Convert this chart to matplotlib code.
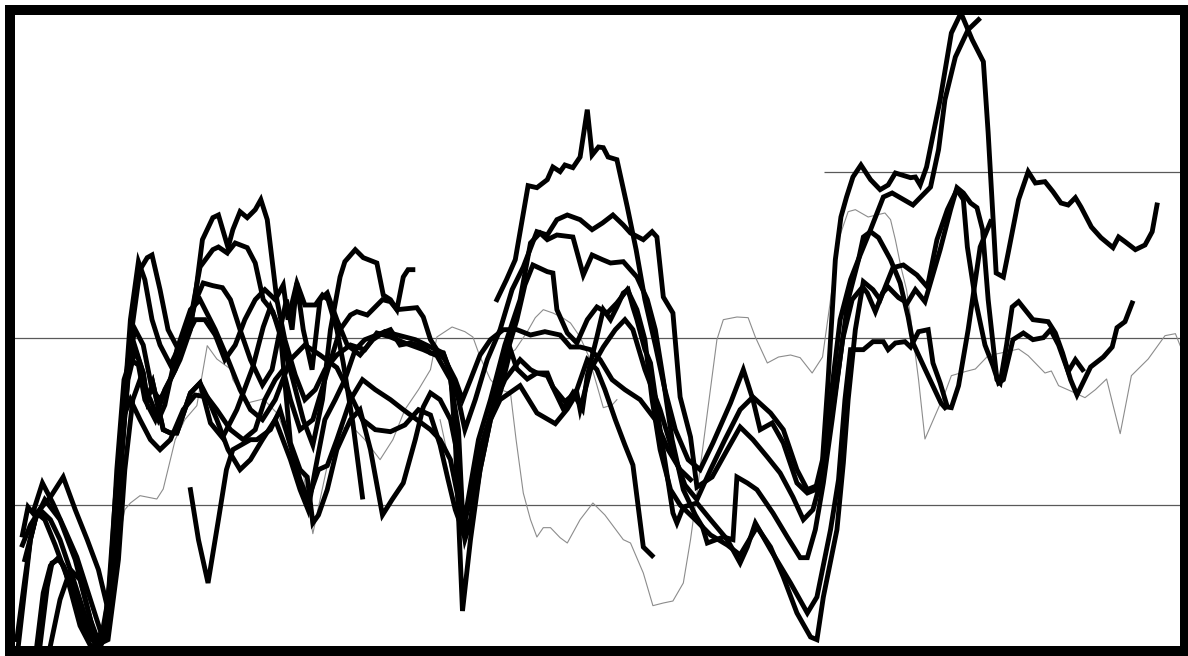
import matplotlib.pyplot as plt

# Twelve tracked series over the sampling window (x in sample units, y in percent).
# Black traces are the main runs, the grey ones are the reference runs.

b1_x = [62.1, 63.3, 64.4, 66.0, 67.1, 68.4, 69.1, 70.0, 70.6, 71.6, 72.5, 73.4, 74.0, 74.8, 75.4, 76.0,
        77.1, 78.4, 79.5, 80.6, 81.9, 83.1, 84.4, 86.0, 87.5, 89.1, 91.3, 92.9, 94.1, 95.0, 96.5, 97.9,
        99.6, 100.9, 101.9, 102.8, 103.5, 104.4, 105.1, 105.8, 106.6, 107.6, 108.8, 110.0, 111.0, 111.9,
        113.8, 114.4, 115.0, 115.8, 117.5, 118.9, 120.1, 121.5, 122.9, 123.5, 124.5, 125.4, 126.0, 127.3,
        128.5, 129.4, 130.6, 131.6, 132.6, 133.5, 134.4, 135.1, 136.4, 137.6, 139.1, 139.8, 140.6, 141.9,
        143.1, 144.0, 144.6]
b1_y = [55.8, 58.8, 61.8, 72.9, 72.6, 73.8, 75.7, 75.0, 76.0, 75.6, 77.2, 84.3, 77.5, 78.7, 78.6, 77.2,
        76.8, 69.7, 63.3, 55.8, 49.0, 42.3, 36.3, 31.8, 30.3, 34.3, 40.3, 45.3, 40.8, 36.3, 37.3, 34.3,
        28.3, 26.8, 27.3, 31.8, 43.8, 61.8, 68.2, 71.2, 74.2, 76.0, 73.8, 72.3, 73.0, 74.8,
        74.1, 74.2, 73.0, 75.7, 85.8, 95.8, 98.8, 94.8, 91.5, 80.8, 59.8, 59.2, 62.8, 70.8,
        75.0, 73.3, 73.5, 72.0, 70.3, 70.0, 71.1, 69.7, 66.7, 65.1, 63.6, 65.2, 64.5, 63.3,
        64.0, 66.0, 70.0]

b2_x = [2.8, 3.5, 4.1, 5.3, 6.6, 8.1, 9.6, 11.3, 12.5, 13.5, 14.4, 15.3, 16.3, 17.3, 18.1, 19.0, 20.0,
        21.3, 22.5, 23.8, 25.0, 26.6, 27.3, 28.4, 29.4, 30.9, 31.9, 32.9, 34.1, 35.4, 36.6, 37.9, 39.1,
        40.3, 41.3, 42.5, 43.1, 44.4, 45.4, 47.1, 47.9, 48.8, 49.6, 50.4, 51.0, 51.6]
b2_y = [20.5, 24.7, 23.8, 28.3, 25.3, 21.3, 17.2, 10.8, 6.3, 7.0, 19.8, 36.3, 52.8, 61.5, 58.8, 52.8, 49.0,
        46.0, 49.0, 52.8, 60.7, 63.3, 63.7, 62.8, 64.3, 63.6, 61.3, 55.8, 54.0, 49.0, 43.8, 37.8, 34.0,
        40.8, 51.3, 59.2, 61.5, 63.3, 62.1, 61.3, 56.5, 55.8, 54.3, 59.2, 60.3, 60.3]

b3_x = [2.3, 3.8, 4.6, 6.3, 7.9, 9.4, 10.9, 12.3, 13.5, 14.4, 15.3, 16.3, 17.5, 18.4, 19.0, 20.0, 21.0,
        22.3, 23.5, 24.5, 25.4, 26.6, 27.8, 28.8, 30.0, 31.3, 32.8, 34.0, 35.0, 35.8, 36.5, 37.1, 37.9,
        39.0, 40.0, 40.9, 42.1, 43.4, 45.0, 46.6, 48.1, 50.0, 51.9, 53.8, 55.4, 56.3, 57.3, 58.1, 59.4,
        60.9, 62.5, 64.0, 65.4, 67.1, 68.4, 69.6, 70.9, 72.5, 74.0, 75.3, 76.6, 77.9, 78.8, 80.4, 81.5,
        82.1, 82.9, 84.1, 85.0, 86.3, 87.1, 89.0, 90.9, 92.5, 94.1, 95.9, 97.5, 99.1, 100.4, 101.6, 102.5,
        103.8, 105.0, 106.3, 107.5, 108.8, 110.4, 111.5, 114.1, 116.3, 117.3, 118.1, 119.4, 121.0, 122.3]
b3_y = [4.0, 19.8, 23.8, 26.2, 29.2, 24.3, 19.8, 15.3, 9.3, 16.8, 33.3, 49.8, 60.3, 62.1, 62.5, 57.3, 51.3,
        48.3, 51.3, 55.8, 58.3, 57.9, 57.6, 55.8, 51.3, 46.8, 43.0, 45.3, 51.3, 55.8, 51.3, 58.3, 51.3,
        45.3, 55.8, 56.8, 52.8, 49.0, 47.5, 49.8, 51.0, 50.4, 49.8, 48.7, 47.8, 44.8, 40.8, 36.3, 40.8,
        46.8, 51.3, 57.3, 60.7, 66.0, 65.5, 67.8, 68.5, 67.8, 66.3, 67.3, 68.5, 67.0, 65.8, 64.8, 66.0,
        65.2, 56.2, 53.8, 41.2, 35.2, 27.7, 29.2, 33.3, 36.7, 34.8, 32.2, 29.8, 26.2, 22.8, 24.3, 28.3,
        40.8, 52.8, 58.8, 62.5, 66.3, 71.2, 71.8, 70.0, 72.7, 78.3, 85.8, 92.2, 96.3, 97.8]

b4_x = [4.6, 5.4, 6.3, 7.3, 8.1, 10.0, 11.3, 12.5, 13.8, 14.8, 15.6, 16.6, 17.9, 18.4, 19.1, 20.4, 21.3,
        22.1, 23.8, 25.0, 25.9, 27.1, 28.5, 30.0, 31.3, 32.8, 34.4, 36.3, 37.5, 38.5, 39.4, 40.6, 41.9,
        43.1, 44.4, 45.6, 47.1, 48.8, 50.0, 51.3, 52.9, 53.8, 55.4, 56.3, 56.9, 57.8, 58.8, 60.0, 61.3,
        62.5, 63.8, 64.6, 65.9, 67.1, 68.4, 69.6, 70.4, 71.6, 72.8, 73.4, 74.6, 75.4, 76.3, 77.1, 77.9,
        78.5, 79.1, 79.6, 80.6, 81.3, 82.5, 84.1, 84.6, 85.4, 87.1, 88.8, 90.9, 92.5, 93.4, 94.4, 96.3,
        98.8, 100.9, 102.1, 103.8, 104.8, 105.6, 106.3, 107.9, 109.1, 110.4, 111.0, 111.9, 113.1, 113.8,
        114.8, 116.0, 116.6, 117.5, 118.4, 118.9, 119.8, 121.0, 122.5, 123.8]
b4_y = [3.9, 11.8, 15.9, 17.1, 15.4, 6.9, 3.9, 4.0, 10.8, 25.8, 40.8, 49.8, 44.8, 40.8, 43.3, 36.3, 35.8,
        35.8, 41.8, 43.3, 41.2, 37.8, 33.3, 30.3, 31.8, 34.8, 37.8, 31.8, 27.3, 24.3, 30.3, 37.8, 40.8,
        43.8, 48.3, 49.8, 50.5, 51.3, 49.0, 49.3, 48.7, 47.8, 47.8, 44.8, 34.8, 9.1, 19.8, 30.3, 37.8,
        41.8, 48.3, 45.4, 43.9, 44.8, 44.4, 41.4, 39.4, 41.8, 39.4, 44.4, 50.2, 54.3, 52.8, 54.7, 56.8,
        57.3, 54.7, 52.8, 48.3, 46.3, 36.3, 23.8, 22.3, 24.7, 25.3, 22.8, 19.8, 16.3, 18.7, 22.3, 18.3,
        13.3, 8.8, 11.2, 21.3, 28.8, 40.8, 48.3, 48.3, 49.5, 49.5, 48.3, 49.3, 49.5, 48.7,
        51.0, 51.3, 46.3, 43.3, 39.7, 39.6, 42.9, 51.3, 63.7, 67.5]

b5_x = [2.1, 3.1, 3.8, 4.6, 5.6, 6.9, 8.5, 10.0, 11.5, 12.5, 13.4, 14.1, 15.0, 16.0, 16.9, 17.9, 19.0,
        20.0, 21.3, 22.5, 23.8, 24.5, 25.3, 26.6, 27.3, 28.5, 29.1, 30.0, 30.9, 31.9, 32.6, 33.4, 34.6,
        35.6, 36.9, 38.1, 39.4, 40.6, 42.1, 43.8, 45.6, 47.1, 48.8, 50.6, 52.9, 54.6, 56.3, 57.3, 57.9,
        58.5, 59.8, 61.3, 63.1, 65.0, 66.3, 67.5, 68.4, 69.6, 71.6, 72.9, 74.0, 75.3, 76.3, 77.9, 79.6,
        80.9, 81.9, 82.9, 84.0, 85.4, 86.9, 87.8, 88.4, 90.4, 91.6, 92.1, 93.4, 94.6, 96.6, 98.4, 100.0,
        100.9, 101.9, 102.9, 104.0, 105.3, 106.5, 107.8, 108.4, 109.4, 110.3, 111.0, 112.3, 113.4, 114.4,
        115.6, 117.5, 118.8, 119.6, 120.4, 121.3, 122.1, 122.8, 123.5, 124.6, 125.0, 125.8, 126.5, 127.3,
        129.1, 131.0, 131.9, 132.8, 133.8, 134.6, 136.3, 137.9, 139.0, 139.6, 140.6, 141.5]
b5_y = [4.8, 13.8, 19.8, 23.8, 22.8, 19.0, 13.8, 9.3, 4.8, 3.6, 6.3, 16.8, 34.8, 46.8, 51.3, 49.0, 42.3,
        40.8, 43.8, 46.8, 51.3, 57.3, 64.8, 68.1, 68.5, 63.6, 66.3, 69.0, 68.1, 69.3, 70.8, 67.8, 55.8,
        49.8, 44.5, 40.8, 42.3, 45.3, 47.5, 49.0, 48.3, 50.8, 50.2, 49.3, 48.3, 47.4, 43.8, 36.3, 21.3,
        25.8, 34.8, 40.8, 49.0, 55.8, 64.3, 65.8, 64.8, 65.5, 65.2, 59.5, 62.5, 61.8, 61.3, 61.5, 59.2,
        55.8, 51.3, 43.8, 34.8, 27.3, 23.5, 21.7, 19.3, 20.2, 19.8, 29.2, 28.3, 27.3, 23.8, 20.2, 17.1,
        17.1, 21.3, 28.3, 37.8, 49.8, 55.8, 57.7, 56.8, 54.0, 56.8, 57.7, 56.1, 55.3, 57.3,
        55.5, 63.3, 69.3, 72.6, 71.8, 70.3, 69.6, 66.3, 55.8, 43.8, 43.3, 49.0, 54.7, 55.5,
        52.8, 52.5, 50.8, 47.8, 43.8, 41.5, 45.7, 47.2, 48.7, 51.6, 52.5, 55.3]

b6_x = [5.0, 5.9, 6.5, 7.3, 7.9, 9.4, 10.3, 11.3, 12.3, 13.1, 14.0, 15.0, 16.0, 16.9, 17.9, 18.4, 19.1,
        20.4, 21.3, 22.1, 23.8, 25.0, 26.3, 27.8, 29.6, 31.6, 32.9, 33.8, 35.0, 36.3, 37.5, 38.4, 39.1,
        39.8, 40.9, 42.1, 43.8, 45.0, 46.3, 47.8, 49.0, 50.4, 51.9, 52.9, 53.8, 55.0, 56.3, 57.3, 57.9,
        58.8, 60.0, 61.5, 63.1, 64.6, 65.6, 66.6, 68.4, 69.1, 69.6, 70.9, 72.1, 73.4, 74.6, 75.9, 77.1,
        78.4, 79.6, 80.6, 81.5, 82.5, 83.8, 85.0, 86.9, 88.8, 90.9, 92.5, 94.6, 96.3, 97.9, 99.6, 101.3,
        102.1, 102.9, 104.6, 105.4, 106.0, 106.9, 107.9, 109.1, 110.0, 111.6, 112.9, 114.6, 115.9, 117.1,
        118.4, 119.6, 120.4, 120.9, 121.9, 123.1, 124.1, 124.8, 125.4, 126.6, 127.9, 129.1, 130.4, 131.3,
        132.3, 133.5, 134.4, 135.3]
b6_y = [3.9, 12.7, 16.3, 16.8, 16.0, 11.8, 7.3, 5.2, 4.0, 6.3, 16.8, 30.3, 43.8, 48.3, 44.8, 40.8, 43.3,
        36.3, 35.8, 35.8, 41.8, 43.3, 37.3, 35.1, 39.3, 45.7, 51.7, 54.7, 51.3, 34.3, 30.3, 29.2, 22.3,
        23.5, 27.3, 33.3, 37.8, 39.3, 33.3, 23.5, 25.8, 28.3, 34.8, 39.7, 41.8, 40.8, 37.8, 31.8, 21.3,
        22.8, 31.8, 39.3, 46.8, 52.8, 58.0, 61.0, 60.0, 59.8, 54.3, 50.8, 49.3, 52.8, 54.7, 53.8, 55.3,
        57.3, 54.3, 49.8, 40.8, 33.3, 27.3, 25.0, 22.8, 20.5, 19.0, 17.5, 21.7, 18.7, 14.2, 8.8, 5.2,
        4.8, 11.2, 21.3, 31.3, 40.8, 51.3, 58.5, 57.3, 55.8, 60.6, 61.0, 59.5, 57.7, 64.8,
        69.3, 72.3, 70.8, 63.7, 55.8, 49.0, 45.9, 43.3, 43.8, 49.8, 50.8, 49.8, 50.1, 51.3,
        49.0, 45.0, 46.8, 45.3]

b7_x = [23.8, 24.8, 26.0, 27.3, 28.3, 29.1, 31.3, 32.1, 33.8, 35.0, 36.3, 37.5, 38.5, 39.8, 40.9, 42.1,
        43.8, 45.3, 46.9, 48.8, 50.4, 52.1, 53.8, 55.0, 56.3, 57.3, 58.1, 59.0, 60.0, 61.3, 62.5, 65.0,
        67.1, 69.4, 70.9, 72.1, 72.5, 73.8, 75.4, 76.9, 78.1, 79.1, 80.6, 82.5, 84.0, 85.6, 87.1, 88.8,
        90.6, 92.5, 94.1, 96.3, 97.9, 99.6, 100.9, 102.3, 103.5, 104.8, 106.0, 107.3, 107.9, 108.8, 109.8,
        111.3, 112.5, 113.5, 114.1, 115.6, 117.6, 118.1]
b7_y = [27.3, 19.8, 13.3, 22.8, 30.3, 33.3, 34.8, 34.8, 36.3, 39.3, 33.9, 28.8, 25.8, 30.3, 30.9, 34.8,
        40.8, 43.8, 42.3, 40.8, 39.3, 37.8, 36.3, 34.8, 31.8, 25.8, 19.8, 23.2, 30.3, 37.8, 40.8, 42.9,
        38.8, 37.2, 39.4, 41.8, 39.3, 45.3, 48.7, 51.3, 52.8, 51.3, 45.3, 39.3, 33.3, 28.0, 25.8, 30.3,
        34.8, 39.3, 41.2, 38.8, 36.3, 30.3, 27.3, 28.0, 34.8, 45.3, 55.8, 61.8, 65.2, 66.0, 65.1,
        61.8, 58.3, 53.2, 49.3, 45.4, 40.3, 39.6]

b8_x = [3.1, 4.4, 5.6, 7.5, 9.4, 11.0, 12.1, 13.5, 14.8, 15.6, 16.6, 17.5, 18.8, 19.8, 20.6, 22.1, 23.8,
        25.0, 26.9, 28.5, 30.0, 31.3, 32.8, 34.4, 36.3, 38.1, 40.0, 42.1, 43.8, 45.3, 46.9, 48.8, 50.6,
        52.3, 53.8, 55.0, 56.0, 56.9, 57.8, 58.8, 60.0, 61.5, 63.1, 65.0, 66.3, 67.1, 68.4, 69.1, 70.6,
        71.3, 72.1, 73.4, 74.6, 75.6, 76.9, 78.1, 79.1, 80.4, 81.5]
b8_y = [16.8, 22.8, 25.8, 22.8, 16.8, 9.3, 4.0, 4.8, 16.8, 30.3, 40.8, 43.8, 40.8, 37.8, 40.0, 48.3, 54.3,
        55.8, 51.3, 46.8, 42.3, 39.3, 37.8, 40.8, 46.8, 49.0, 47.5, 45.6, 41.5, 37.8, 36.3, 36.0, 37.0,
        39.3, 38.5, 34.0, 28.8, 24.3, 21.3, 25.8, 33.3, 39.3, 43.8, 46.8, 45.3, 44.8, 44.8, 42.7, 40.5,
        41.2, 42.3, 46.8, 45.3, 42.3, 37.8, 34.0, 31.0, 18.7, 17.4]

b9_x = [2.8, 3.8, 5.0, 6.3, 7.5, 9.0, 10.6, 11.9, 13.0, 13.8, 14.6, 15.5, 16.3, 17.3, 18.1, 19.4, 20.6,
        21.9, 23.1, 24.4, 25.6, 26.9, 28.1, 29.4, 30.6, 31.9, 33.1, 34.4, 35.4, 36.0, 37.1, 38.1, 39.4,
        40.3, 41.0, 42.1, 42.9, 44.1, 45.3]
b9_y = [19.0, 22.0, 24.3, 22.8, 19.8, 14.5, 8.5, 4.8, 6.3, 13.8, 30.3, 43.8, 46.8, 46.0, 40.8, 37.8, 42.3,
        45.3, 49.8, 52.8, 52.8, 50.5, 46.8, 49.0, 52.8, 55.8, 57.3, 55.8, 58.0, 52.8, 58.3, 55.0, 55.0,
        56.5, 55.8, 51.3, 46.3, 37.3, 26.2]

b10_x = [6.3, 7.5, 8.8, 10.0, 11.3, 12.5, 13.5, 14.4, 15.3, 16.3, 17.5, 18.8, 20.0, 21.3, 22.9, 24.4,
         25.9, 27.1, 28.8, 30.4, 31.9, 33.1, 34.4, 35.4, 36.3, 37.5, 39.1, 40.6, 42.5, 43.8, 44.6, 45.9,
         47.8, 48.8, 49.6, 52.1, 52.9, 53.8, 54.6, 55.6, 56.9, 57.8, 58.8, 60.0, 61.3, 62.9, 64.6, 66.3,
         68.1, 70.0, 71.3, 72.5, 73.8, 75.0, 76.5, 78.1, 80.0, 81.9, 83.5, 85.0, 86.3]
b10_y = [3.9, 10.8, 15.3, 13.8, 7.8, 3.9, 10.8, 25.8, 37.8, 40.8, 37.8, 34.8, 33.3, 34.8, 39.3, 41.5,
         41.2, 39.3, 36.3, 34.8, 36.3, 40.8, 43.8, 45.3, 40.8, 36.3, 37.8, 43.8, 51.3, 53.5, 54.0, 53.5,
         55.8, 55.5, 54.3, 54.6, 53.2, 49.8, 48.3, 46.8, 43.8, 40.8, 43.8, 47.5, 49.8, 51.3, 51.3, 50.5,
         51.0, 50.5, 48.7, 48.7, 48.3, 46.8, 43.8, 42.3, 40.8, 37.8, 33.3, 30.3, 28.8]

g1_x = [12.5, 13.5, 14.4, 15.6, 16.3, 17.5, 19.6, 20.4, 21.9, 23.1, 24.6, 25.9, 27.1, 28.8, 29.1, 30.9,
        32.9, 34.6, 36.3, 37.9, 39.1, 40.0, 40.9, 42.5, 43.8, 45.6, 47.5, 49.1, 50.6, 52.3, 53.8, 54.6,
        56.5, 58.1, 59.1, 60.0, 61.3, 62.5, 63.8, 64.5, 65.4, 66.3, 67.1, 67.9, 68.8, 70.0, 70.9, 72.5,
        74.1, 75.6, 77.9, 78.8, 80.4, 81.6, 82.9, 84.1, 85.4, 86.3, 87.1, 88.4, 89.6, 90.4, 92.1, 93.5,
        94.4, 95.9, 97.3, 98.8, 100.0, 101.5, 102.8, 103.8, 104.8, 106.0, 106.9, 108.5, 110.6, 111.3,
        111.9, 112.6, 113.3, 113.8, 114.8, 115.6, 116.9, 118.1, 118.9, 120.6, 121.9, 123.5, 125.1, 127.3,
        128.5, 130.6, 131.4, 132.3, 134.0, 135.6, 136.9, 138.3, 139.1, 140.0, 141.4, 143.5, 145.6, 146.9,
        147.5]
g1_y = [4.0, 7.8, 16.8, 24.3, 25.3, 26.4, 25.9, 27.4, 34.8, 37.8, 39.9, 48.9, 46.9, 45.4, 43.8, 40.3,
        40.9, 38.8, 33.9, 29.8, 20.7, 25.8, 30.9, 36.3, 37.0, 34.8, 31.8, 34.8, 39.3, 42.3, 45.3, 50.2,
        51.7, 51.0, 50.2, 47.2, 43.8, 42.3, 41.8, 34.8, 26.8, 22.8, 20.2, 21.6, 21.6, 20.1, 19.3, 22.8,
        25.3, 23.5, 19.8, 19.3, 14.8, 9.9, 10.3, 10.6, 13.3, 19.8, 26.8, 38.8, 49.8, 52.8, 53.2, 53.1,
        50.2, 46.3, 47.2, 47.5, 47.1, 44.8, 47.2, 55.8, 64.8, 69.0, 69.3, 68.2, 68.8, 67.8,
        64.8, 60.7, 57.3, 53.2, 43.8, 34.9, 38.5, 41.8, 44.4, 45.0, 45.4, 47.4, 47.8, 48.4,
        47.4, 44.8, 45.1, 42.9, 42.0, 41.1, 42.3, 43.9, 40.0, 35.7, 44.4, 46.9, 50.4, 50.7,
        48.9]

g2_x = [62.5, 64.4, 65.9, 66.9, 67.9, 69.1, 70.3, 71.3, 72.5, 73.5, 74.4, 75.4, 76.5, 77.1]
g2_y = [46.8, 48.3, 51.0, 53.1, 54.3, 53.8, 53.1, 52.3, 50.2, 47.5, 43.8, 39.6, 40.0, 40.8]

g3_x = [55.0, 55.9, 56.9, 57.9, 58.5, 59.0, 60.0, 61.3, 62.1]
g3_y = [37.8, 32.8, 27.3, 21.3, 22.0, 23.2, 30.3, 37.8, 40.8]

black_runs = [(b1_x, b1_y), (b2_x, b2_y), (b3_x, b3_y), (b4_x, b4_y), (b5_x, b5_y),
              (b6_x, b6_y), (b7_x, b7_y), (b8_x, b8_y), (b9_x, b9_y), (b10_x, b10_y)]
grey_runs = [(g1_x, g1_y), (g2_x, g2_y), (g3_x, g3_y)]

grid_levels = [25, 50]
upper_level = 75
upper_start = 103

fig = plt.figure(figsize=(11.88, 6.56), dpi=100)
ax = fig.add_axes([10 / 1188, 5 / 656, 1175 / 1188, 641 / 656])

for level in grid_levels:
    ax.axhline(level, color='0.35', lw=0.9, zorder=1)
ax.hlines(upper_level, upper_start, 148.1, color='0.35', lw=0.9, zorder=1)

for xs, ys in grey_runs:
    ax.plot(xs, ys, color='0.55', lw=0.8, zorder=2)

for xs, ys in black_runs:
    ax.plot(xs, ys, color='black', lw=3.5, solid_joinstyle='miter', zorder=3)

ax.set_xlim(1.25, 148.1)
ax.set_ylim(3.1, 99.25)
ax.set_xticks([])
ax.set_yticks([])
for spine in ax.spines.values():
    spine.set_linewidth(7.2)
    spine.set_color('black')
    spine.set_zorder(5)

fig.savefig('out.png', dpi=100)
